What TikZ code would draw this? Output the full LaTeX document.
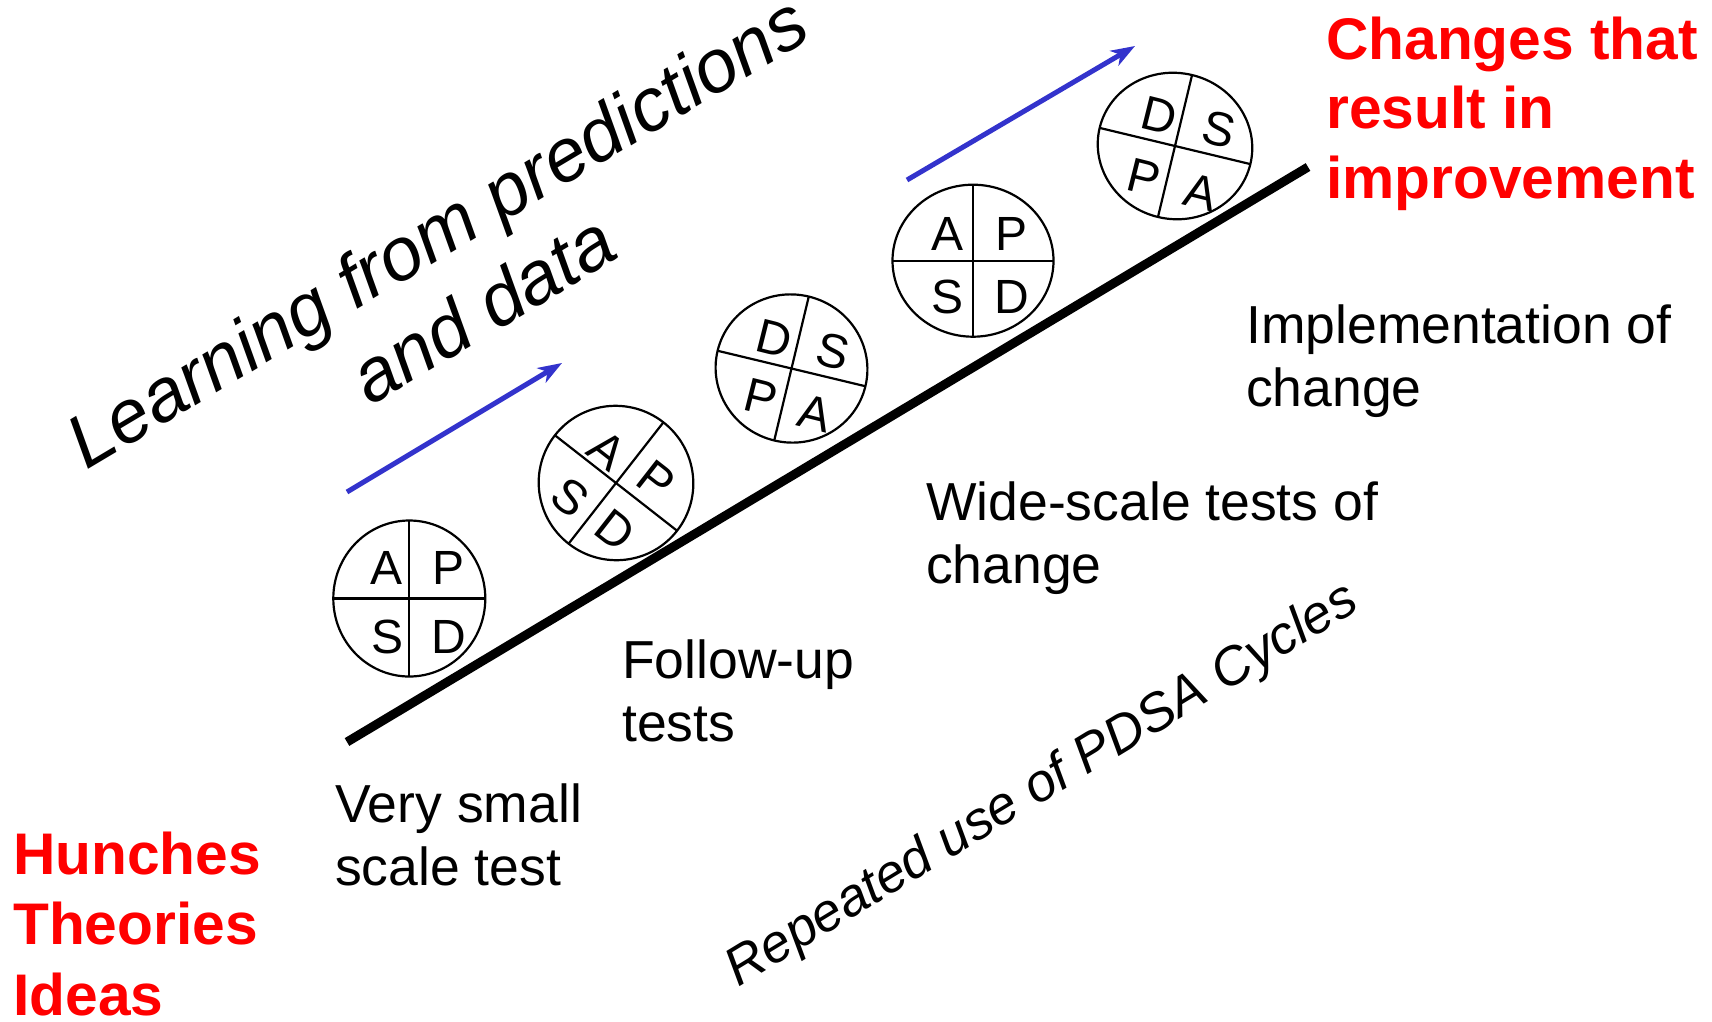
\documentclass[tikz,border=0pt]{standalone}
\usepackage{fontspec}
\setmainfont{Liberation Sans}
\usetikzlibrary{arrows.meta,calc,shapes.geometric}
\definecolor{arrowblue}{RGB}{51,51,204}
\definecolor{hotred}{RGB}{255,0,0}
\begin{document}
\begin{tikzpicture}[x=1pt,y=-1pt,
  cyc/.style={ellipse, draw, line width=2.2pt, inner sep=0pt, outer sep=0pt},
  divider/.style={line width=2.2pt},
  letter/.style={inner sep=0pt, font=\fontsize{48}{58}\selectfont},
  lbl/.style={inner sep=0pt, anchor=base west, font=\fontsize{53.5}{63}\selectfont},
  redlbl/.style={inner sep=0pt, anchor=base west, text=hotred, font=\fontsize{58.7}{69.5}\selectfont\bfseries},
  bluearrow/.style={draw=arrowblue, line width=5pt, -{Stealth[length=24pt,width=17pt,inset=7pt]}},
  ramp/.style={line width=9pt}
]
\useasboundingbox (0,0) rectangle (1712,1021);

% ramp
\coordinate (r0) at (347,742);
\coordinate (r1) at (1308,167);
\draw[ramp] (r0) -- (r1);

% blue arrows
\coordinate (b0) at (347,492);
\coordinate (b1) at (562,363);
\coordinate (b2) at (907,180);
\coordinate (b3) at (1135,46);
\draw[bluearrow] (b0) -- (b1);
\draw[bluearrow] (b2) -- (b3);

% cycle 1
\node[cyc, minimum width=152pt, minimum height=156pt] (c1) at (409.3,598.5) {};
\draw[divider] (c1.north) -- (c1.south);
\draw[divider] (c1.west) -- (c1.east);
\node[letter] (c1a) at ($(c1)+(-22.6,-30.8)$) {A};
\node[letter] (c1p) at ($(c1)+(39,-30.8)$) {P};
\node[letter] (c1s) at ($(c1)+(-21.8,38.4)$) {S};
\node[letter] (c1d) at ($(c1)+(40,38.4)$) {D};

% cycle 2
\node[cyc, minimum width=155pt, minimum height=154pt, rotate=-38] (c2) at (616,483) {};
\draw[divider] (c2.north) -- (c2.south);
\draw[divider] (c2.west) -- (c2.east);
\node[letter, rotate=-38] (c2a) at ($(c2)+(-8.7,-33)$) {A};
\node[letter, rotate=-38] (c2p) at ($(c2)+(40.7,-3)$) {P};
\node[letter, rotate=-38] (c2s) at ($(c2)+(-46,14)$) {S};
\node[letter, rotate=-38] (c2d) at ($(c2)+(-1,47)$) {D};

% cycle 3
\node[cyc, minimum width=152pt, minimum height=148pt, rotate=-13.5] (c3) at (791.5,368.5) {};
\draw[divider] (c3.north) -- (c3.south);
\draw[divider] (c3.west) -- (c3.east);
\node[letter, rotate=-14] (c3d) at ($(c3)+(-16.7,-30)$) {D};
\node[letter, rotate=-14] (c3s) at ($(c3)+(42,-17)$) {S};
\node[letter, rotate=-14] (c3p) at ($(c3)+(-30,29)$) {P};
\node[letter, rotate=-14] (c3a) at ($(c3)+(23.3,45)$) {A};

% cycle 4
\node[cyc, minimum width=161pt, minimum height=152pt] (c4) at (973,260.7) {};
\draw[divider] (c4.north) -- (c4.south);
\draw[divider] (c4.west) -- (c4.east);
\node[letter] (c4a) at ($(c4)+(-25.8,-26.5)$) {A};
\node[letter] (c4p) at ($(c4)+(38.7,-26.5)$) {P};
\node[letter] (c4s) at ($(c4)+(-25.5,36)$) {S};
\node[letter] (c4d) at ($(c4)+(39,36)$) {D};

% cycle 5
\node[cyc, minimum width=155pt, minimum height=146pt, rotate=-13.5] (c5) at (1175,146) {};
\draw[divider] (c5.north) -- (c5.south);
\draw[divider] (c5.west) -- (c5.east);
\node[letter, rotate=-14] (c5d) at ($(c5)+(-15.5,-30)$) {D};
\node[letter, rotate=-14] (c5s) at ($(c5)+(44.5,-16.7)$) {S};
\node[letter, rotate=-14] (c5p) at ($(c5)+(-30.5,31.7)$) {P};
\node[letter, rotate=-14] (c5a) at ($(c5)+(26,46.7)$) {A};

% labels
\node[lbl] (t1) at (335,822) {\begin{tabular}[t]{@{}l@{}}Very small\\scale test\end{tabular}};
\node[lbl] (t2) at (622,678) {\begin{tabular}[t]{@{}l@{}}Follow-up\\tests\end{tabular}};
\node[lbl] (t3) at (926,520) {\begin{tabular}[t]{@{}l@{}}Wide-scale tests of\\change\end{tabular}};
\node[lbl] (t4) at (1246,343) {\begin{tabular}[t]{@{}l@{}}Implementation of\\change\end{tabular}};

\node[redlbl] (g1) at (1326,59) {\begin{tabular}[t]{@{}l@{}}Changes that\\result in\\improvement\end{tabular}};
\node[redlbl, font=\fontsize{58.7}{70.5}\selectfont\bfseries] (g0) at (13,874) {\begin{tabular}[t]{@{}l@{}}Hunches\\Theories\\Ideas\end{tabular}};

\node[inner sep=0pt, anchor=base, rotate=30.8, font=\fontsize{75}{90}\selectfont\itshape] (learn) at (450,254) {\begin{tabular}[t]{@{}c@{}}Learning from predictions\\and data\end{tabular}};
\node[inner sep=0pt, anchor=base, rotate=31.3, font=\fontsize{53.5}{63}\selectfont\itshape] (rep) at (1050,798) {Repeated use of PDSA Cycles};
\end{tikzpicture}
\end{document}
